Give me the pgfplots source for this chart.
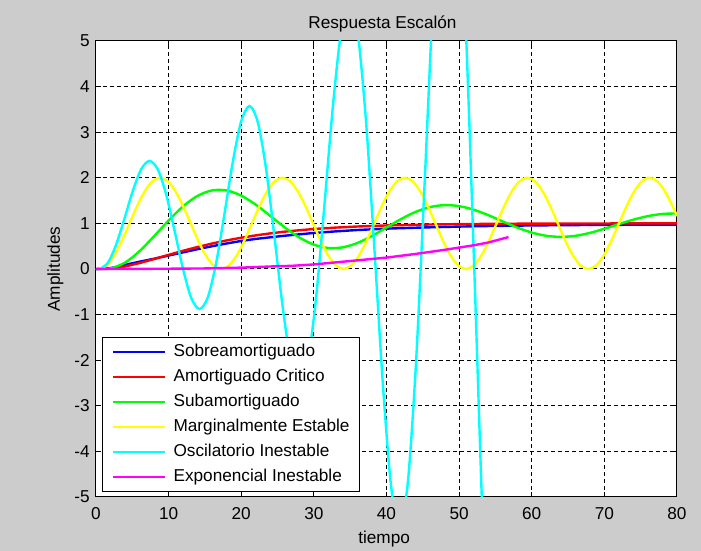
\documentclass[border=0pt]{standalone}
\usepackage{fontspec}
\setmainfont{Liberation Sans}
\usepackage{pgfplots}
\pgfplotsset{compat=1.18}
\definecolor{figgray}{HTML}{CCCCCC}
\definecolor{mblue}{HTML}{0000FF}
\definecolor{mred}{HTML}{FF0000}
\definecolor{mgreen}{HTML}{00FF00}
\definecolor{myellow}{HTML}{FFFF00}
\definecolor{mcyan}{HTML}{00FFFF}
\definecolor{mmagenta}{HTML}{FF00FF}

\begin{document}
\begin{tikzpicture}[font=\fontsize{8.6}{10}\selectfont]
% fondo gris de la figura (701x551 px, 1 px = 0.5 pt)
\path[use as bounding box, fill=figgray] (-48pt,-27pt) rectangle (302.5pt,248.5pt);
\begin{axis}[
    scale only axis,
    width=290.5pt, height=228pt,
    xmin=0, xmax=80, ymin=-5, ymax=5,
    axis background/.style={fill=white},
    axis line style={black, line width=0.5pt},
    xtick={0,10,...,80},
    ytick={-5,-4,...,5},
    xticklabels={0,10,20,30,40,50,60,70,80},
    yticklabels={-5,-4,-3,-2,-1,0,1,2,3,4,5},
    tick align=inside,
    tick pos=both,
    major tick length=2.5pt,
    every tick/.style={black, line width=0.5pt},
    tick label style={font=\fontsize{8.6}{10}\selectfont, inner sep=0pt},
    xticklabel style={yshift=-4.8pt},
    yticklabel style={xshift=-3pt},
    grid=major,
    major grid style={black, line width=0.5pt, dash pattern=on 2pt off 1.5pt},
    title={Respuesta Escalón},
    title style={at={(axis description cs:0.5,1)}, anchor=base, inner sep=0pt, xshift=-2pt, font=\fontsize{8.6}{10}\selectfont},
    xlabel={tiempo},
    xlabel style={at={(axis description cs:0.5,-0.1009)}, anchor=base, inner sep=0pt, xshift=-1.2pt, font=\fontsize{8.6}{10}\selectfont},
    ylabel={Amplitudes},
    ylabel style={at={(axis description cs:-0.062,0.5)}, anchor=base, inner sep=0pt, font=\fontsize{8.6}{10}\selectfont},
    legend cell align=left,
    legend image code/.code={\draw[#1] (0pt,0pt) -- (26pt,0pt);},
    legend style={at={(axis description cs:0.0098,0.0103)}, anchor=south west,
        draw=black, line width=0.5pt, fill=white,
        font=\fontsize{8.6}{10}\selectfont,
        inner xsep=5pt, inner ysep=3.1pt, row sep=4pt, column sep=3.5pt,
        nodes={inner sep=0pt, text height=6.5pt, text depth=2pt}},
]
% Sobreamortiguado
\addplot[mblue, line width=1.2pt] coordinates {
(0,0) (1,0.005) (2,0.02) (3,0.05) (4,0.09) (6,0.16) (8,0.225) (10,0.295) (12,0.365)
(14,0.435) (16,0.50) (18,0.56) (20,0.615) (22,0.66) (24,0.695) (26,0.73) (28,0.76)
(30,0.79) (33,0.825) (36,0.855) (40,0.885) (45,0.91) (50,0.93) (55,0.945) (60,0.955)
(65,0.962) (70,0.967) (75,0.971) (80,0.974)};
% Amortiguado Critico
\addplot[mred, line width=1.2pt] coordinates {
(0,0) (1,0) (2,0.007) (4,0.055) (6,0.130) (8,0.218) (10,0.310) (12,0.400) (14,0.483)
(16,0.559) (18,0.627) (20,0.686) (22,0.737) (24,0.781) (26,0.819) (28,0.850) (30,0.877)
(33,0.908) (36,0.932) (40,0.955) (45,0.973) (50,0.984) (56,0.992) (64,0.997) (72,0.999) (80,1.0)};
% Subamortiguado
\addplot[mgreen, line width=1.2pt, smooth] coordinates {
(0,0) (1.3,0) (2,0.010) (4,0.139) (6,0.392) (8,0.719) (10,1.065) (12,1.375) (14,1.605)
(16,1.724) (18,1.722) (20,1.609) (22,1.411) (24,1.165) (26,0.911) (28,0.691) (30,0.534)
(32,0.460) (34,0.476) (36,0.571) (38,0.725) (40,0.910) (42,1.095) (44,1.252) (46,1.358)
(48,1.401) (50,1.379) (52,1.300) (54,1.182) (56,1.043) (58,0.909) (60,0.799) (62,0.728)
(64,0.704) (66,0.727) (68,0.791) (70,0.883) (72,0.985) (74,1.082) (76,1.160) (78,1.207) (80,1.218)};
% Marginalmente Estable
\addplot[myellow, line width=1.2pt, smooth] coordinates {
(0,0) (0.40,0) (1.45,0.076) (2.51,0.293) (3.56,0.617) (4.61,1) (5.67,1.383) (6.72,1.707)
(7.77,1.924) (8.83,2) (9.88,1.924) (10.93,1.707) (11.98,1.383) (13.04,1) (14.09,0.617)
(15.14,0.293) (16.20,0.076) (17.25,0) (18.30,0.076) (19.36,0.293) (20.41,0.617) (21.46,1)
(22.52,1.383) (23.57,1.707) (24.62,1.924) (25.68,2) (26.73,1.924) (27.78,1.707) (28.83,1.383)
(29.89,1) (30.94,0.617) (31.99,0.293) (33.05,0.076) (34.10,0) (35.15,0.076) (36.21,0.293)
(37.26,0.617) (38.31,1) (39.37,1.383) (40.42,1.707) (41.47,1.924) (42.53,2) (43.58,1.924)
(44.63,1.707) (45.68,1.383) (46.74,1) (47.79,0.617) (48.84,0.293) (49.90,0.076) (50.95,0)
(52.00,0.076) (53.06,0.293) (54.11,0.617) (55.16,1) (56.22,1.383) (57.27,1.707) (58.32,1.924)
(59.38,2) (60.43,1.924) (61.48,1.707) (62.53,1.383) (63.59,1) (64.64,0.617) (65.69,0.293)
(66.75,0.076) (67.80,0) (68.85,0.076) (69.91,0.293) (70.96,0.617) (72.01,1) (73.07,1.383)
(74.12,1.707) (75.17,1.924) (76.23,2) (77.28,1.924) (78.33,1.707) (79.38,1.383) (80,1.16)};
% Oscilatorio Inestable
\addplot[mcyan, line width=1.2pt, smooth] coordinates {
(0,0) (0.5,0) (1.65,0.140) (2.79,0.541) (3.94,1.117) (5.09,1.724) (6.23,2.191) (7.38,2.370)
(8.53,2.178) (9.67,1.629) (10.82,0.839) (11.97,0.008) (13.11,-0.633) (14.26,-0.878)
(15.41,-0.615) (16.55,0.138) (17.70,1.221) (18.85,2.360) (19.99,3.237) (21.14,3.574)
(22.29,3.213) (23.43,2.181) (24.58,0.698) (25.73,-0.864) (26.87,-2.066) (28.02,-2.527)
(29.17,-2.033) (30.31,-0.618) (31.46,1.414) (32.61,3.554) (33.75,5.202) (34.90,5.834)
(36.05,5.156) (37.19,3.218) (38.34,0.432) (39.49,-2.500) (40.63,-4.758) (41.78,-5.624)
(42.93,-4.695) (44.07,-2.039) (45.22,1.778) (46.37,5.796) (47.51,8.891) (48.66,10.078)
(49.81,8.805) (50.95,5.165) (52.10,-0.066) (53.25,-5.573) (54.39,-9.815) (55.54,-11.440)
(56.69,-9.696)};
% Exponencial Inestable
\addplot[mmagenta, line width=1.2pt] coordinates {
(0,0) (5,0.002) (10,0.006) (15,0.012) (20,0.03) (24,0.055) (27,0.07) (30,0.10) (33,0.145)
(36,0.19) (40,0.25) (44,0.33) (48,0.42) (52,0.52) (54,0.58) (56.8,0.70)};
\legend{Sobreamortiguado,Amortiguado Critico,Subamortiguado,Marginalmente Estable,Oscilatorio Inestable,Exponencial Inestable}
\end{axis}
\end{tikzpicture}
\end{document}
